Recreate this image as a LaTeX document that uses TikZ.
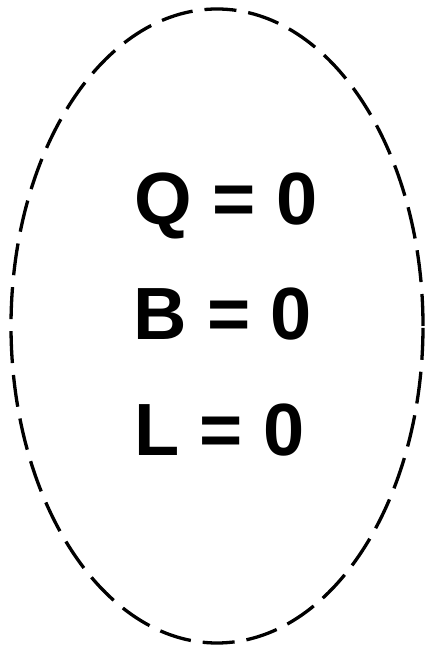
\documentclass[tikz,border=0pt]{standalone}
\usepackage{fontspec}
\setmainfont{Liberation Sans}
\begin{document}
\begin{tikzpicture}[x=1pt,y=1pt,
  eqtext/.style={anchor=base west, inner sep=0pt, font=\fontsize{74}{80}\selectfont\bfseries},
  border/.style={draw=black, line width=3.3pt, dash pattern=on 32pt off 12pt}]
\useasboundingbox (0,0) rectangle (428,647);
\draw[border] (217,321) ellipse [x radius=206, y radius=317];
\node[eqtext] (q) at (134,422) {Q = 0};
\node[eqtext] (b) at (133,307) {B = 0};
\node[eqtext] (l) at (134,191) {L = 0};
\end{tikzpicture}
\end{document}
